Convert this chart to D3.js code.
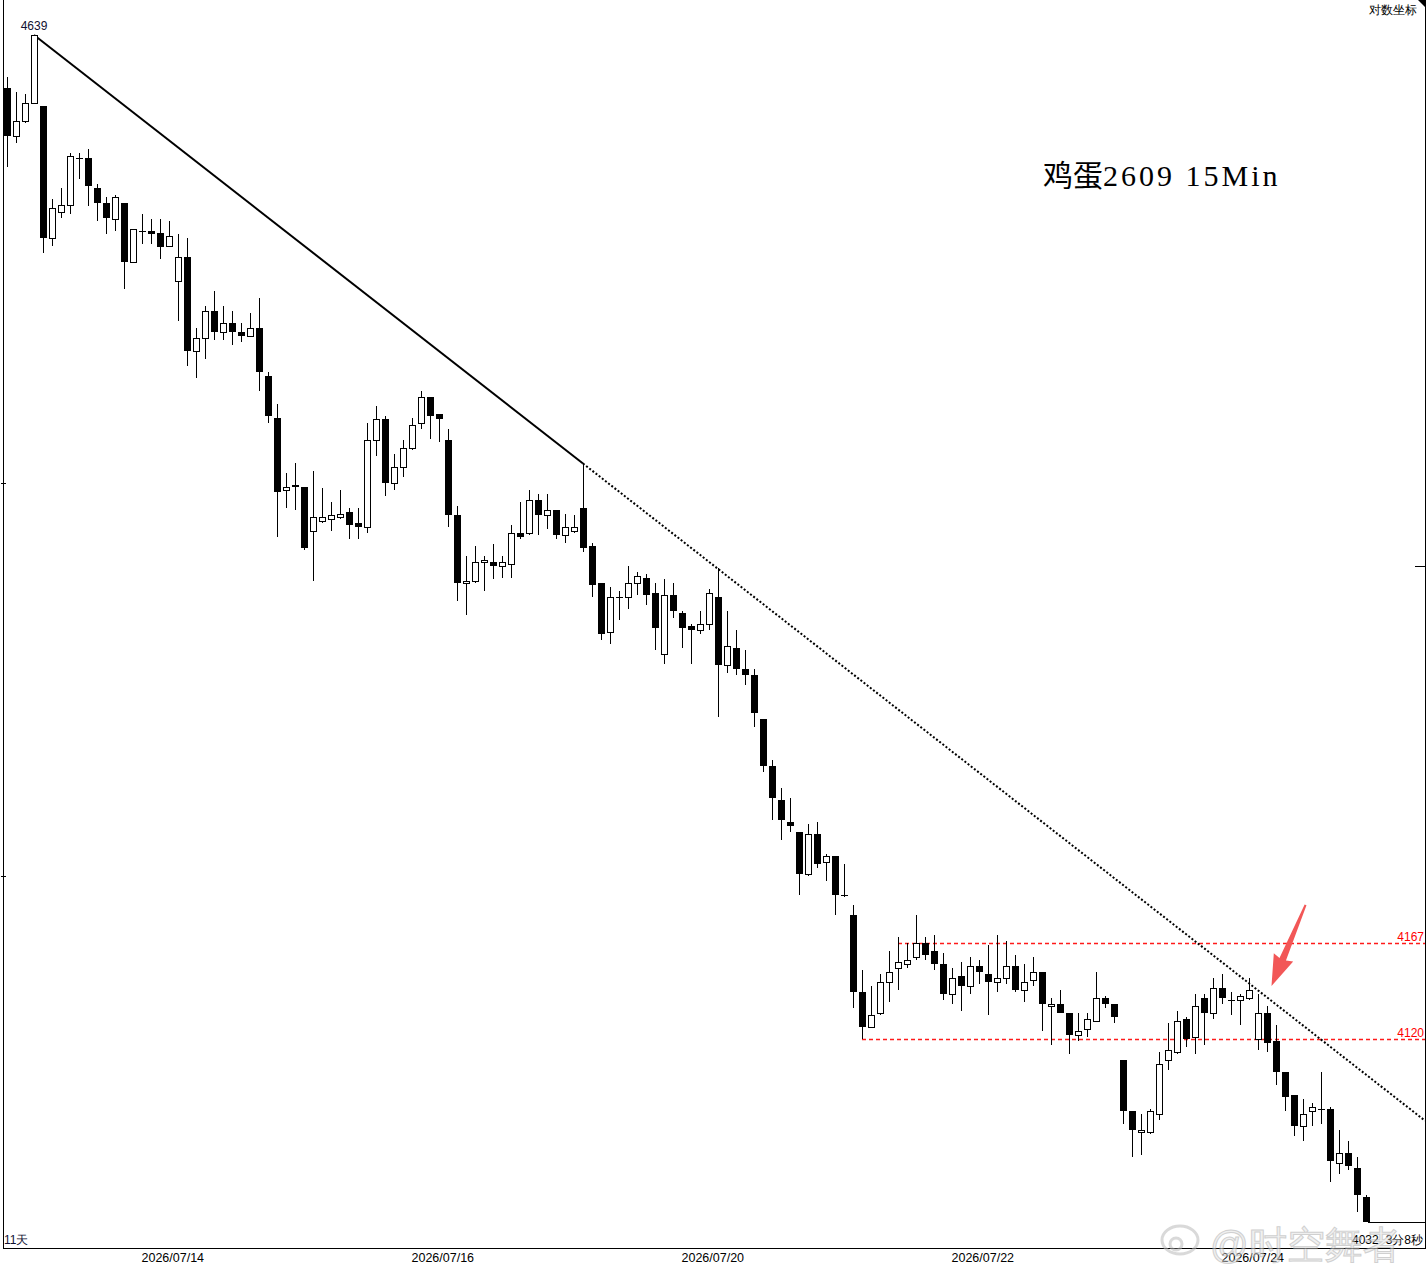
<!DOCTYPE html>
<html>
<head>
<meta charset="utf-8">
<script src="https://cdn.jsdelivr.net/npm/d3@7"></script>
<style>
body { margin: 0; background: #fff; }
svg { display: block; }
text { font-family: "Liberation Sans", Arial, sans-serif; }
</style>
</head>
<body>
<svg id="chart"></svg>
<script>
// egg futures 2609, 15 minute bars, 15 bars per trading day
var days = ["2026/07/13","2026/07/14","2026/07/15","2026/07/16","2026/07/17",
            "2026/07/20","2026/07/21","2026/07/22","2026/07/23","2026/07/24","2026/07/27"];
var barsPerDay = 15;

var open = [4610,4584,4592,4602,4600,4529,4543,4547,4572,4572,4556,4548,4539,4548,4516,
            4533,4533,4532,4525,4506,4519,4469,4476,4490,4479,4484,4479,4477,4481,4456,
            4434,4396,4399,4398,4375,4380,4381,4382,4385,4379,4377,4422,4433,4400,4408,
            4418,4431,4445,4436,4422,4383,4348,4349,4359,4359,4357,4358,4374,4374,4391,
            4383,4386,4373,4375,4387,4367,4348,4323,4341,4341,4348,4351,4343,4312,4342,
            4333,4326,4324,4327,4341,4306,4315,4304,4301,4279,4255,4238,4227,4222,4201,
            4221,4207,4210,4191,4181,4143,4126,4133,4148,4155,4157,4160,4167,4163,4157,
            4142,4151,4146,4156,4152,4148,4150,4156,4144,4149,4153,4136,4137,4133,4122,
            4125,4129,4140,4137,4110,4085,4075,4075,4084,4110,4114,4130,4121,4140,4133,
            4145,4139,4139,4140,4120,4133,4119,4104,4093,4078,4085,4086,4086,4060,4065,
            4058,4044];
var high = [4616,4608,4607,4639,4600,4550,4556,4575,4575,4577,4558,4551,4552,4548,4534,
            4542,4539,4539,4538,4531,4529,4481,4493,4501,4493,4490,4484,4489,4497,4458,
            4441,4405,4410,4398,4406,4397,4390,4396,4387,4387,4431,4440,4435,4415,4422,
            4434,4448,4445,4436,4428,4388,4362,4367,4362,4368,4362,4378,4390,4396,4394,
            4394,4386,4384,4383,4410,4369,4348,4346,4344,4357,4354,4353,4348,4350,4348,
            4334,4327,4334,4345,4356,4334,4324,4314,4304,4279,4258,4244,4239,4222,4226,
            4227,4211,4210,4206,4186,4154,4146,4152,4163,4170,4167,4181,4170,4171,4162,
            4155,4158,4160,4159,4166,4171,4168,4161,4157,4160,4153,4140,4144,4133,4133,
            4133,4153,4141,4137,4110,4085,4084,4086,4114,4128,4134,4131,4142,4142,4150,
            4152,4143,4142,4150,4142,4136,4127,4104,4093,4091,4089,4104,4087,4076,4071,
            4063,4045];
var low = [4567,4580,4591,4602,4521,4525,4540,4542,4561,4546,4538,4531,4533,4502,4516,
           4526,4526,4518,4524,4485,4461,4455,4465,4475,4475,4472,4474,4477,4448,4431,
           4372,4387,4386,4365,4349,4379,4375,4381,4371,4371,4374,4414,4393,4396,4403,
           4417,4428,4423,4421,4377,4339,4332,4348,4344,4350,4351,4351,4371,4373,4373,
           4376,4371,4369,4374,4364,4341,4319,4317,4329,4335,4342,4337,4314,4307,4330,
           4315,4307,4322,4324,4280,4302,4301,4296,4275,4252,4228,4218,4222,4191,4200,
           4204,4198,4181,4190,4135,4120,4126,4132,4138,4144,4155,4159,4159,4154,4139,
           4137,4134,4142,4147,4132,4143,4147,4143,4138,4146,4124,4117,4133,4113,4119,
           4121,4129,4135,4128,4079,4063,4064,4074,4081,4105,4113,4116,4113,4117,4130,
           4137,4132,4127,4139,4115,4114,4098,4085,4073,4071,4078,4079,4051,4055,4057,
           4037,4032];
var close = [4584,4592,4602,4639,4529,4545,4547,4573,4572,4557,4548,4540,4551,4516,4534,
             4533,4531,4524,4530,4519,4469,4476,4490,4479,4484,4479,4477,4481,4458,4435,
             4395,4398,4398,4366,4382,4382,4383,4384,4378,4377,4422,4433,4400,4408,4418,
             4430,4445,4435,4433,4383,4348,4349,4359,4360,4357,4359,4374,4372,4391,4383,
             4386,4373,4377,4377,4366,4347,4322,4341,4341,4348,4352,4342,4325,4342,4334,
             4325,4324,4327,4343,4306,4316,4304,4301,4282,4255,4239,4228,4225,4201,4221,
             4206,4210,4191,4191,4143,4126,4132,4148,4153,4158,4159,4167,4161,4157,4142,
             4150,4146,4156,4153,4148,4150,4156,4144,4148,4153,4137,4137,4133,4122,4124,
             4130,4140,4137,4131,4085,4076,4076,4085,4108,4115,4129,4120,4136,4133,4145,
             4140,4139,4141,4144,4133,4118,4104,4092,4078,4084,4087,4086,4061,4065,4059,
             4045,4032];

var levels = [4167, 4120];
var levelStart = [99, 95];      // bar where each red dashed level begins
var trendBars = [3, 64];        // bars whose highs define the falling trend line
var gridTicks = [4400, 4200];   // small log-scale marks on the left border
var rightMark = 4357;           // small mark on the right border
var arrowBar = 140.5, arrowPrice = 4146;
var lastPrice = close[close.length - 1];

var W = 1428, H = 1268;
var left = 3, right = 1425, bottom = 1248;

var svg = d3.select("#chart").attr("width", W).attr("height", H);

var x = d3.scaleLinear().domain([0, open.length - 1]).range([7, 1366]);
var y = d3.scaleLog().domain([d3.max(high), d3.min(low)]).range([35, 1222]);

var bars = open.map(function(o, i) {
  return {i: i, o: o, h: high[i], l: low[i], c: close[i]};
});

function cx(d) { return Math.round(x(d.i)); }

// frame
svg.append("path")
  .attr("d", "M" + (left + 0.5) + ",0V" + (bottom + 0.5) + "H" + (right + 0.5) + "V0")
  .attr("fill", "none").attr("stroke", "#000").attr("shape-rendering", "crispEdges");
svg.append("path")
  .attr("d", "M" + (right - 7) + ",0H" + (right + 1) + "V8Z")
  .attr("fill", "#000");

// little scale marks on the borders
svg.selectAll(".gt").data(gridTicks).enter().append("line")
  .attr("x1", left - 2).attr("x2", left + 3)
  .attr("y1", function(p) { return Math.round(y(p)) + 0.5; })
  .attr("y2", function(p) { return Math.round(y(p)) + 0.5; })
  .attr("stroke", "#000").attr("shape-rendering", "crispEdges");
svg.append("line")
  .attr("x1", right - 10).attr("x2", right)
  .attr("y1", Math.round(y(rightMark)) + 0.5).attr("y2", Math.round(y(rightMark)) + 0.5)
  .attr("stroke", "#000").attr("shape-rendering", "crispEdges");

// red dashed support / resistance levels
levels.forEach(function(p, k) {
  var yy = Math.round(y(p)) + 0.5;
  svg.append("line")
    .attr("x1", Math.round(x(levelStart[k]))).attr("x2", right)
    .attr("y1", yy).attr("y2", yy)
    .attr("stroke", "#ff1a1a").attr("stroke-width", 1.6)
    .attr("stroke-dasharray", "4,3");
  svg.append("text")
    .attr("x", right - 1).attr("y", yy - 3)
    .attr("text-anchor", "end")
    .attr("font-size", 12).attr("fill", "#ff0000")
    .text(p);
});

// trend line: solid between the two highs, dotted beyond
var p1 = [x(trendBars[0]), y(high[trendBars[0]])];
var p2 = [x(trendBars[1]), y(high[trendBars[1]])];
var slope = (p2[1] - p1[1]) / (p2[0] - p1[0]);
var p3 = [right, p2[1] + slope * (right - p2[0])];
svg.append("line")
  .attr("x1", p1[0]).attr("y1", p1[1]).attr("x2", p2[0]).attr("y2", p2[1])
  .attr("stroke", "#000").attr("stroke-width", 2);
svg.append("line")
  .attr("x1", p2[0]).attr("y1", p2[1]).attr("x2", p3[0]).attr("y2", p3[1])
  .attr("stroke", "#000").attr("stroke-width", 2)
  .attr("stroke-dasharray", "2,2");

// candles
var g = svg.append("g").attr("shape-rendering", "crispEdges");
var bar = g.selectAll(".bar").data(bars).enter().append("g").attr("class", "bar");

bar.append("line")
  .attr("x1", function(d) { return cx(d) + 0.5; })
  .attr("x2", function(d) { return cx(d) + 0.5; })
  .attr("y1", function(d) { return y(d.h); })
  .attr("y2", function(d) { return y(d.l); })
  .attr("stroke", "#000");

bar.filter(function(d) { return d.c < d.o; }).append("rect")
  .attr("x", function(d) { return cx(d) - 3; })
  .attr("width", 7)
  .attr("y", function(d) { return y(d.o); })
  .attr("height", function(d) { return Math.max(1, y(d.c) - y(d.o)); })
  .attr("fill", "#000");

bar.filter(function(d) { return d.c > d.o; }).append("rect")
  .attr("x", function(d) { return cx(d) - 2.5; })
  .attr("width", 6)
  .attr("y", function(d) { return Math.round(y(d.c)) + 0.5; })
  .attr("height", function(d) { return Math.max(1, Math.round(y(d.o)) - Math.round(y(d.c))); })
  .attr("fill", "#fff").attr("stroke", "#000");

bar.filter(function(d) { return d.c === d.o; }).append("line")
  .attr("x1", function(d) { return cx(d) - 3; })
  .attr("x2", function(d) { return cx(d) + 4; })
  .attr("y1", function(d) { return Math.round(y(d.o)) + 0.5; })
  .attr("y2", function(d) { return Math.round(y(d.o)) + 0.5; })
  .attr("stroke", "#000");

// highest price label
svg.append("text")
  .attr("x", x(trendBars[0])).attr("y", y(d3.max(high)) - 5)
  .attr("text-anchor", "middle").attr("font-size", 12).attr("fill", "#101030")
  .text(d3.max(high));

// date axis, labels on every second trading day
var tickIdx = [], tickText = [];
days.forEach(function(d, k) {
  if (k % 2 === 1 && k * barsPerDay < open.length) {
    tickIdx.push(k * barsPerDay);
    tickText.push(d);
  }
});
var axis = svg.append("g")
  .attr("transform", "translate(0," + bottom + ")")
  .call(d3.axisBottom(x).tickValues(tickIdx)
        .tickFormat(function(v, k) { return tickText[k]; })
        .tickSize(0).tickPadding(5));
axis.select(".domain").remove();
axis.selectAll("text")
  .attr("text-anchor", "start").attr("dx", -1)
  .attr("font-family", "'Liberation Sans', Arial, sans-serif")
  .attr("font-size", 12.5).attr("fill", "#000");

// last price marker
var yl = Math.round(y(lastPrice)) + 0.5;
svg.append("line")
  .attr("x1", x(open.length - 1) + 2).attr("x2", right)
  .attr("y1", yl).attr("y2", yl)
  .attr("stroke", "#000").attr("shape-rendering", "crispEdges");
svg.append("text")
  .attr("x", 1352).attr("y", 1244).attr("font-size", 12)
  .text(lastPrice);
svg.append("text")
  .attr("x", right - 2).attr("y", 1244).attr("font-size", 12)
  .attr("text-anchor", "end")
  .attr("font-family", "'Noto Sans CJK SC', sans-serif")
  .text("3分8秒");

// corner texts
svg.append("text")
  .attr("x", 1417).attr("y", 14).attr("text-anchor", "end")
  .attr("font-family", "'Noto Sans CJK SC', sans-serif").attr("font-size", 12)
  .text("对数坐标");
svg.append("text")
  .attr("x", 4).attr("y", 1244)
  .attr("font-family", "'Noto Sans CJK SC', sans-serif").attr("font-size", 12)
  .attr("fill", "#101030")
  .text(days.length + "天");

// title
var title = svg.append("text").attr("x", 1043).attr("y", 186).attr("font-size", 30);
title.append("tspan").attr("font-family", "'Noto Sans CJK SC', sans-serif").text("鸡蛋");
title.append("tspan").attr("font-family", "'Liberation Serif', serif")
  .attr("letter-spacing", 3).text("2609 15Min");

// red arrow pointing at the break of the trend line
var tip = [x(arrowBar), y(arrowPrice)];
var ang = Math.atan2(-81, 34);      // direction from tip back to the tail
var ux = Math.cos(ang), uy = Math.sin(ang), nx = -uy, ny = ux;
function pt(a, b) { return [tip[0] + ux * a + nx * b, tip[1] + uy * a + ny * b]; }
var arrow = [pt(88, -1), pt(88, 1), pt(29, 3.5), pt(31, 10.5), pt(0, 0), pt(31, -10.5), pt(29, -3.5)];
svg.append("polygon")
  .attr("points", arrow.map(function(p) { return p.join(","); }).join(" "))
  .attr("fill", "#f25757");

// watermark
var wm = svg.append("g").attr("opacity", 0.55);
wm.append("ellipse").attr("cx", 1180).attr("cy", 1240).attr("rx", 18).attr("ry", 14)
  .attr("fill", "none").attr("stroke", "#bbb").attr("stroke-width", 3);
wm.append("circle").attr("cx", 1176).attr("cy", 1244).attr("r", 6)
  .attr("fill", "none").attr("stroke", "#bbb").attr("stroke-width", 3);
wm.append("text").attr("x", 1210).attr("y", 1258)
  .attr("font-family", "'Noto Sans CJK SC', sans-serif").attr("font-size", 38)
  .attr("fill", "#e4e4e4").attr("stroke", "#aaa").attr("stroke-width", 1)
  .text("@时空舞者");
</script>
</body>
</html>
